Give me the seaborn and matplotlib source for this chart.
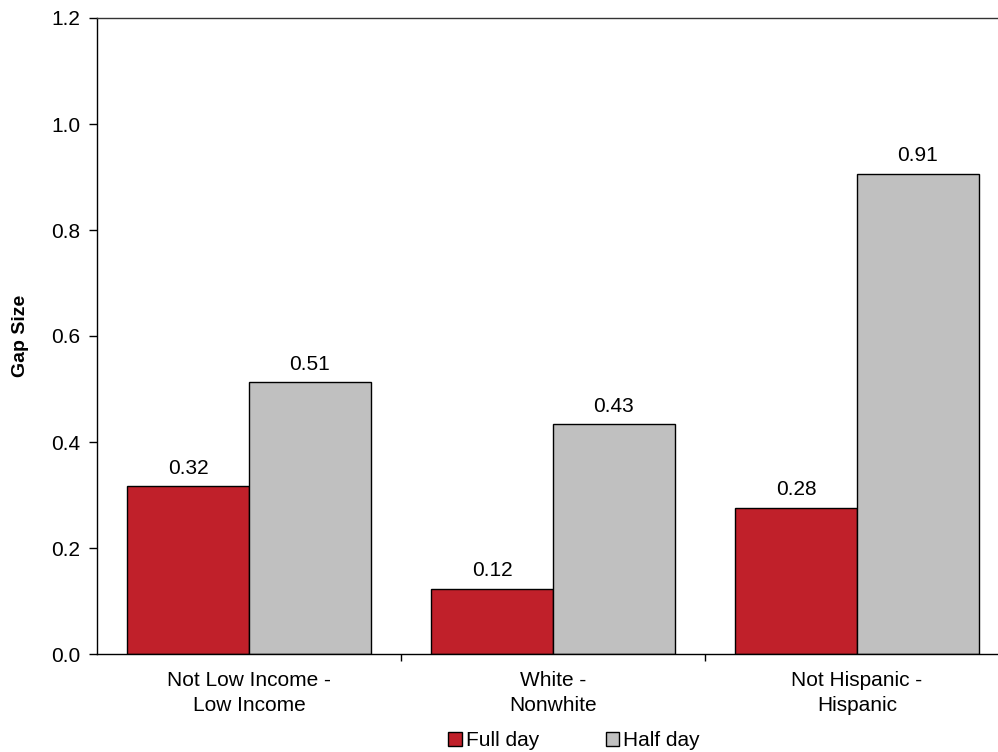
import pandas as pd
import numpy as np
import seaborn as sns
import matplotlib.pyplot as plt
from matplotlib.patches import Patch

# Data
categories = ["Not Low Income -\nLow Income", "White -\nNonwhite", "Not Hispanic -\nHispanic"]
full_day = [0.317, 0.123, 0.276]
half_day = [0.513, 0.434, 0.906]
series_names = ["Full day", "Half day"]
colors = ["#C0202A", "#C0C0C0"]

df = pd.DataFrame({
    "category": categories * 2,
    "series": [series_names[0]] * 3 + [series_names[1]] * 3,
    "value": full_day + half_day,
})

sns.set_theme(style="white")
plt.rcParams['font.family'] = ['Liberation Sans', 'DejaVu Sans']
plt.rcParams['text.color'] = 'black'
plt.rcParams['xtick.color'] = 'black'
plt.rcParams['ytick.color'] = 'black'
plt.rcParams['axes.labelcolor'] = 'black'

fs = 15

fig = plt.figure(figsize=(9.98, 7.52), dpi=100)
ax = fig.add_axes([97 / 998, 1 - 654 / 752, 912 / 998, 636 / 752])

sns.barplot(data=df, x="category", y="value", hue="series", palette=colors,
            width=0.8, edgecolor="black", linewidth=1.0, ax=ax, legend=False,
            saturation=1)

for cont in ax.containers:
    ax.bar_label(cont, fmt="%.2f", padding=6, fontsize=fs, color="black")

ax.set_ylim(0, 1.2)
ax.set_xlim(-0.5, 2.5)
ax.set_yticks(np.arange(0, 1.21, 0.2))
ax.set_yticklabels([f"{v:.1f}" for v in np.arange(0, 1.21, 0.2)], fontsize=fs)
ax.set_xticks([0, 1, 2])
ax.set_xticklabels(categories, fontsize=fs, linespacing=1.45)
ax.set_xticks([0.5, 1.5, 2.5], minor=True)
ax.tick_params(axis="x", which="major", length=0, pad=12)
ax.tick_params(axis="x", which="minor", length=5, width=1, color="black", direction="out", bottom=True)
ax.tick_params(axis="y", length=6, width=1, color="black", direction="out", left=True, pad=6)
ax.set_xlabel("")
ax.set_ylabel("Gap Size", fontsize=14, fontweight="bold", labelpad=16)

for side in ["left", "bottom", "top", "right"]:
    ax.spines[side].set_color("black")
    ax.spines[side].set_linewidth(1.0)
ax.spines["top"].set_color("#333333")

handles = [Patch(facecolor=c, edgecolor="black", label=n) for c, n in zip(colors, series_names)]
fig.legend(handles=handles, loc="center", bbox_to_anchor=(574 / 998, 1 - 741 / 752),
           ncol=2, frameon=False, fontsize=fs, handlelength=0.65, handleheight=0.65,
           handletextpad=0.2, columnspacing=3.2)

fig.savefig("out.png", dpi=100)
